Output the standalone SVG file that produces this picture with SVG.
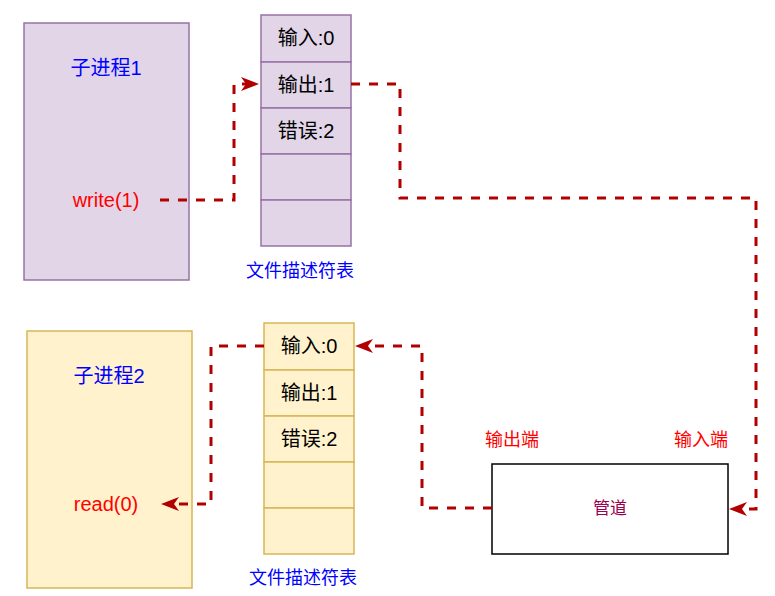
<svg xmlns="http://www.w3.org/2000/svg" width="775" height="596" viewBox="0 0 775 596">
<style>
text{font-family:"Liberation Sans","Noto Sans CJK SC",sans-serif;text-anchor:middle;dominant-baseline:central}
.p1{fill:#e1d5e7;stroke:#9673a6;stroke-width:1.5}
.p2{fill:#fff2cc;stroke:#d6b656;stroke-width:1.5}
.big{font-size:20px}
.mid{font-size:18px}
.blue{fill:#0000ff}
.red{fill:#ff0000}
.blk{fill:#000}
.conn{fill:none;stroke:#b20000;stroke-width:3;stroke-dasharray:9 9;marker-end:url(#arr)}
</style>
<defs>
<marker id="arr" markerUnits="userSpaceOnUse" markerWidth="20" markerHeight="16" refX="5" refY="7" orient="auto" overflow="visible">
<path d="M0,0 L18,7 L0,14 L5,7 Z" fill="#b20000"/>
</marker>
</defs>
<g id="proc1">
<rect class="p1" x="24" y="23" width="165" height="257"/>
<text class="big blue" x="106" y="68">子进程1</text>
<text class="big red" x="106" y="200">write(1)</text>
</g>
<g id="fdt1">
<rect class="p1" x="261" y="15" width="90" height="47"/>
<rect class="p1" x="261" y="62" width="90" height="46"/>
<rect class="p1" x="261" y="108" width="90" height="46"/>
<rect class="p1" x="261" y="154" width="90" height="46"/>
<rect class="p1" x="261" y="200" width="90" height="46"/>
<text class="big blk" x="306" y="38">输入:0</text>
<text class="big blk" x="306" y="85">输出:1</text>
<text class="big blk" x="306" y="131">错误:2</text>
</g>
<g id="fdt1label"><text class="mid blue" x="300" y="271">文件描述符表</text></g>
<g id="proc2">
<rect class="p2" x="27" y="331" width="165" height="257"/>
<text class="big blue" x="109" y="376">子进程2</text>
<text class="big red" x="106" y="504">read(0)</text>
</g>
<g id="fdt2">
<rect class="p2" x="264" y="323" width="90" height="47"/>
<rect class="p2" x="264" y="370" width="90" height="46"/>
<rect class="p2" x="264" y="416" width="90" height="46"/>
<rect class="p2" x="264" y="462" width="90" height="46"/>
<rect class="p2" x="264" y="508" width="90" height="46"/>
<text class="big blk" x="309" y="346">输入:0</text>
<text class="big blk" x="309" y="393">输出:1</text>
<text class="big blk" x="309" y="439">错误:2</text>
</g>
<g id="fdt2label"><text class="mid blue" x="303" y="578">文件描述符表</text></g>
<g id="pipe">
<rect x="492" y="464" width="236" height="90" fill="#ffffff" stroke="#000000" stroke-width="1.5"/>
<text x="610" y="508" font-size="17" fill="#99004d">管道</text>
</g>
<g id="outEnd"><text class="mid red" x="512" y="440">输出端</text></g>
<g id="inEnd"><text class="mid red" x="701" y="440">输入端</text></g>
<g id="connectors">
<path class="conn" d="M160,200 H234 V84 H246"/>
<path class="conn" d="M351,84 H400 V198 H756 V509 H742"/>
<path class="conn" d="M492,508 H422 V346 H368"/>
<path class="conn" d="M264,346 H211 V504 H174"/>
</g>
</svg>
